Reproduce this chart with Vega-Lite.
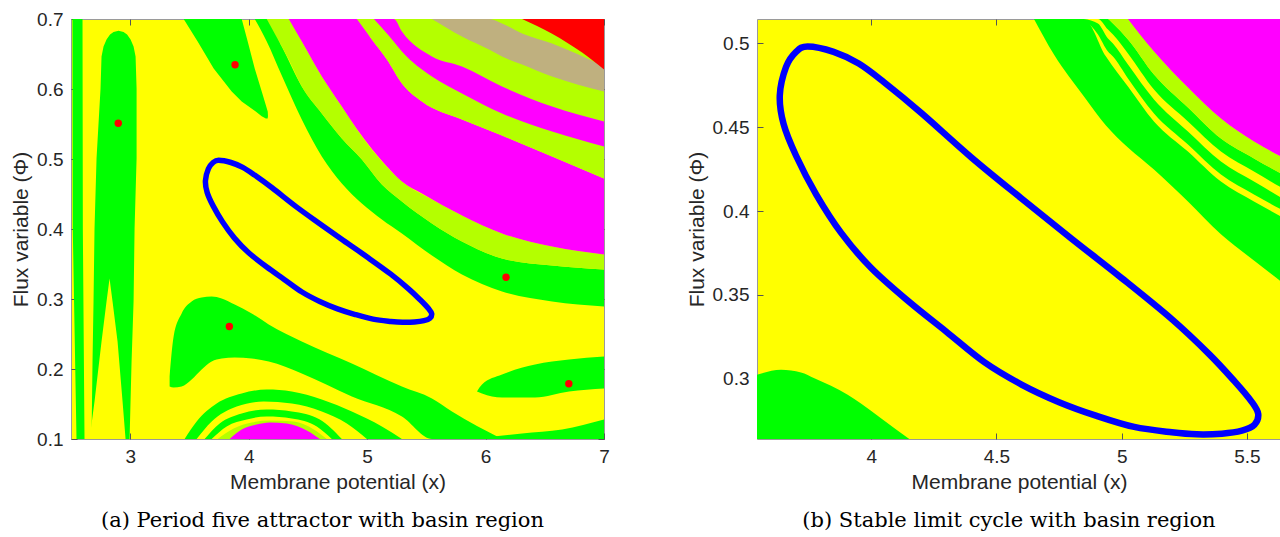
{
  "$schema": "https://vega.github.io/schema/vega-lite/v6.json",
  "autosize": {"type": "pad"},
  "padding": {"left": 10, "top": 9, "right": 0, "bottom": 5},
  "background": "white",
  "config": {
    "view": {"stroke": "#9a9a9a", "strokeWidth": 1, "fill": "#ffff00"},
    "axis": {
      "domain": false, "grid": false, "ticks": true, "tickSize": -6, "tickColor": "#555555",
      "labelFont": "Liberation Sans", "labelFontSize": 19, "labelColor": "#262626", "labelPadding": 14, "labelFlush": false,
      "titleFont": "Liberation Sans", "titleFontSize": 21, "titleFontWeight": "normal", "titleColor": "#262626", "titlePadding": 5
    },
    "title": {"font": "DejaVu Serif", "fontSize": 21, "fontWeight": "normal", "color": "#000000", "orient": "bottom", "anchor": "middle", "frame": "group"}
  },
  "datasets": {
    "areasA": [
      {"id": "band", "c": "green", "x": 4.0511, "lo": 0.7, "hi": 0.7},
      {"id": "band", "c": "green", "x": 4.1526, "lo": 0.6679, "hi": 0.7},
      {"id": "band", "c": "green", "x": 4.2794, "lo": 0.6193, "hi": 0.6607},
      {"id": "band", "c": "green", "x": 4.4485, "lo": 0.5564, "hi": 0.6036},
      {"id": "band", "c": "green", "x": 4.6175, "lo": 0.5036, "hi": 0.565},
      {"id": "band", "c": "green", "x": 4.7866, "lo": 0.465, "hi": 0.5293},
      {"id": "band", "c": "green", "x": 4.9556, "lo": 0.4364, "hi": 0.4993},
      {"id": "band", "c": "green", "x": 5.1247, "lo": 0.4136, "hi": 0.4636},
      {"id": "band", "c": "green", "x": 5.2938, "lo": 0.3936, "hi": 0.4393},
      {"id": "band", "c": "green", "x": 5.5473, "lo": 0.3621, "hi": 0.4079},
      {"id": "band", "c": "green", "x": 5.8009, "lo": 0.335, "hi": 0.3821},
      {"id": "band", "c": "green", "x": 6.139, "lo": 0.3107, "hi": 0.3579},
      {"id": "band", "c": "green", "x": 6.5617, "lo": 0.2964, "hi": 0.3479},
      {"id": "band", "c": "green", "x": 7.0, "lo": 0.2893, "hi": 0.3421},

      {"id": "str1", "c": "stripe", "x": 4.1526, "lo": 0.7, "hi": 0.7},
      {"id": "str1", "c": "stripe", "x": 4.2794, "lo": 0.6607, "hi": 0.7},
      {"id": "str1", "c": "stripe", "x": 4.3386, "lo": 0.6421, "hi": 0.7},
      {"id": "str1", "c": "stripe", "x": 4.4485, "lo": 0.6036, "hi": 0.6679},
      {"id": "str1", "c": "stripe", "x": 4.6175, "lo": 0.565, "hi": 0.6179},
      {"id": "str1", "c": "stripe", "x": 4.7866, "lo": 0.5293, "hi": 0.575},
      {"id": "str1", "c": "stripe", "x": 4.9556, "lo": 0.4993, "hi": 0.5321},
      {"id": "str1", "c": "stripe", "x": 5.1247, "lo": 0.4636, "hi": 0.4964},
      {"id": "str1", "c": "stripe", "x": 5.2938, "lo": 0.4393, "hi": 0.4679},
      {"id": "str1", "c": "stripe", "x": 5.5473, "lo": 0.4079, "hi": 0.4421},
      {"id": "str1", "c": "stripe", "x": 5.8009, "lo": 0.3821, "hi": 0.4193},
      {"id": "str1", "c": "stripe", "x": 6.139, "lo": 0.3579, "hi": 0.3936},
      {"id": "str1", "c": "stripe", "x": 6.5617, "lo": 0.3479, "hi": 0.375},
      {"id": "str1", "c": "stripe", "x": 7.0, "lo": 0.3421, "hi": 0.3636},

      {"id": "mag1", "c": "magenta", "x": 4.3386, "lo": 0.7, "hi": 0.7},
      {"id": "mag1", "c": "magenta", "x": 4.4485, "lo": 0.6679, "hi": 0.7},
      {"id": "mag1", "c": "magenta", "x": 4.6175, "lo": 0.6179, "hi": 0.7},
      {"id": "mag1", "c": "magenta", "x": 4.7866, "lo": 0.575, "hi": 0.7},
      {"id": "mag1", "c": "magenta", "x": 4.9134, "lo": 0.5429, "hi": 0.7},
      {"id": "mag1", "c": "magenta", "x": 5.0402, "lo": 0.5143, "hi": 0.6707},
      {"id": "mag1", "c": "magenta", "x": 5.167, "lo": 0.4893, "hi": 0.6421},
      {"id": "mag1", "c": "magenta", "x": 5.2938, "lo": 0.4679, "hi": 0.6079},
      {"id": "mag1", "c": "magenta", "x": 5.4628, "lo": 0.4507, "hi": 0.5821},
      {"id": "mag1", "c": "magenta", "x": 5.8009, "lo": 0.4193, "hi": 0.5564},
      {"id": "mag1", "c": "magenta", "x": 6.139, "lo": 0.3936, "hi": 0.5336},
      {"id": "mag1", "c": "magenta", "x": 6.5617, "lo": 0.375, "hi": 0.5036},
      {"id": "mag1", "c": "magenta", "x": 7.0, "lo": 0.3636, "hi": 0.4721},

      {"id": "z2", "c": "stripe", "x": 4.9134, "lo": 0.7, "hi": 0.7},
      {"id": "z2", "c": "stripe", "x": 5.0402, "lo": 0.6707, "hi": 0.7},
      {"id": "z2", "c": "stripe", "x": 5.167, "lo": 0.6421, "hi": 0.7},
      {"id": "z2", "c": "stripe", "x": 5.2938, "lo": 0.6079, "hi": 0.7},
      {"id": "z2", "c": "stripe", "x": 5.4628, "lo": 0.5821, "hi": 0.7},
      {"id": "z2", "c": "stripe", "x": 5.8009, "lo": 0.5564, "hi": 0.7},
      {"id": "z2", "c": "stripe", "x": 6.139, "lo": 0.5336, "hi": 0.7},
      {"id": "z2", "c": "stripe", "x": 6.5617, "lo": 0.5036, "hi": 0.7},
      {"id": "z2", "c": "stripe", "x": 7.0, "lo": 0.4721, "hi": 0.7},

      {"id": "nz", "c": "mix", "x": 5.5473, "lo": 0.7, "hi": 0.7},
      {"id": "nz", "c": "mix", "x": 5.8009, "lo": 0.675, "hi": 0.7},
      {"id": "nz", "c": "mix", "x": 6.0292, "lo": 0.6564, "hi": 0.7},
      {"id": "nz", "c": "mix", "x": 6.139, "lo": 0.6464, "hi": 0.6936},
      {"id": "nz", "c": "mix", "x": 6.3081, "lo": 0.635, "hi": 0.6793},
      {"id": "nz", "c": "mix", "x": 6.5617, "lo": 0.6179, "hi": 0.665},
      {"id": "nz", "c": "mix", "x": 7.0, "lo": 0.5964, "hi": 0.6321},

      {"id": "mag2", "c": "magenta", "x": 5.0571, "lo": 0.7, "hi": 0.7},
      {"id": "mag2", "c": "magenta", "x": 5.2261, "lo": 0.6676, "hi": 0.7},
      {"id": "mag2", "c": "magenta", "x": 5.2938, "lo": 0.6536, "hi": 0.6821},
      {"id": "mag2", "c": "magenta", "x": 5.5473, "lo": 0.6179, "hi": 0.6464},
      {"id": "mag2", "c": "magenta", "x": 5.8009, "lo": 0.5936, "hi": 0.6321},
      {"id": "mag2", "c": "magenta", "x": 6.139, "lo": 0.565, "hi": 0.6036},
      {"id": "mag2", "c": "magenta", "x": 6.5617, "lo": 0.5393, "hi": 0.575},
      {"id": "mag2", "c": "magenta", "x": 7.0, "lo": 0.5179, "hi": 0.5536},

      {"id": "red", "c": "red", "x": 6.3081, "lo": 0.7, "hi": 0.7},
      {"id": "red", "c": "red", "x": 6.5617, "lo": 0.679, "hi": 0.7},
      {"id": "red", "c": "red", "x": 6.8153, "lo": 0.652, "hi": 0.7},
      {"id": "red", "c": "red", "x": 7.0, "lo": 0.628, "hi": 0.7},

      {"id": "blob", "c": "green", "x": 3.3326, "lo": 0.175, "hi": 0.1893},
      {"id": "blob", "c": "green", "x": 3.3664, "lo": 0.1736, "hi": 0.2464},
      {"id": "blob", "c": "green", "x": 3.4341, "lo": 0.175, "hi": 0.2793},
      {"id": "blob", "c": "green", "x": 3.5186, "lo": 0.185, "hi": 0.2964},
      {"id": "blob", "c": "green", "x": 3.6031, "lo": 0.1993, "hi": 0.3021},
      {"id": "blob", "c": "green", "x": 3.6877, "lo": 0.2107, "hi": 0.3036},
      {"id": "blob", "c": "green", "x": 3.7722, "lo": 0.215, "hi": 0.3007},
      {"id": "blob", "c": "green", "x": 3.8821, "lo": 0.2164, "hi": 0.2921},
      {"id": "blob", "c": "green", "x": 4.0258, "lo": 0.215, "hi": 0.2793},
      {"id": "blob", "c": "green", "x": 4.1695, "lo": 0.2107, "hi": 0.2636},
      {"id": "blob", "c": "green", "x": 4.4485, "lo": 0.1936, "hi": 0.2393},
      {"id": "blob", "c": "green", "x": 4.8711, "lo": 0.1607, "hi": 0.2079},
      {"id": "blob", "c": "green", "x": 5.2938, "lo": 0.1321, "hi": 0.175},
      {"id": "blob", "c": "green", "x": 5.5473, "lo": 0.1, "hi": 0.1579},
      {"id": "blob", "c": "green", "x": 5.7164, "lo": 0.1, "hi": 0.1393},
      {"id": "blob", "c": "green", "x": 6.139, "lo": 0.1, "hi": 0.1},

      {"id": "rb", "c": "green", "x": 5.9277, "lo": 0.1679, "hi": 0.1679},
      {"id": "rb", "c": "green", "x": 5.97, "lo": 0.165, "hi": 0.1779},
      {"id": "rb", "c": "green", "x": 6.139, "lo": 0.1593, "hi": 0.1921},
      {"id": "rb", "c": "green", "x": 6.418, "lo": 0.1593, "hi": 0.2064},
      {"id": "rb", "c": "green", "x": 6.7054, "lo": 0.1679, "hi": 0.2136},
      {"id": "rb", "c": "green", "x": 7.0, "lo": 0.1721, "hi": 0.2179},

      {"id": "br", "c": "green", "x": 5.887, "lo": 0.1, "hi": 0.1},
      {"id": "br", "c": "green", "x": 6.3081, "lo": 0.1, "hi": 0.1079},
      {"id": "br", "c": "green", "x": 6.6462, "lo": 0.1, "hi": 0.1136},
      {"id": "br", "c": "green", "x": 7.0, "lo": 0.1, "hi": 0.1279},

      {"id": "d1", "c": "green", "x": 3.4594, "lo": 0.1, "hi": 0.1},
      {"id": "d1", "c": "green", "x": 3.5609, "lo": 0.1, "hi": 0.125},
      {"id": "d1", "c": "green", "x": 3.7299, "lo": 0.1, "hi": 0.1507},
      {"id": "d1", "c": "green", "x": 3.9412, "lo": 0.1, "hi": 0.165},
      {"id": "d1", "c": "green", "x": 4.1526, "lo": 0.1, "hi": 0.1707},
      {"id": "d1", "c": "green", "x": 4.364, "lo": 0.1, "hi": 0.1679},
      {"id": "d1", "c": "green", "x": 4.6175, "lo": 0.1, "hi": 0.1564},
      {"id": "d1", "c": "green", "x": 4.8711, "lo": 0.1, "hi": 0.1393},
      {"id": "d1", "c": "green", "x": 5.1247, "lo": 0.1, "hi": 0.1179},
      {"id": "d1", "c": "green", "x": 5.2938, "lo": 0.1, "hi": 0.1},

      {"id": "d2", "c": "yellow", "x": 3.5609, "lo": 0.1, "hi": 0.1},
      {"id": "d2", "c": "yellow", "x": 3.6877, "lo": 0.1, "hi": 0.125},
      {"id": "d2", "c": "yellow", "x": 3.899, "lo": 0.1, "hi": 0.1464},
      {"id": "d2", "c": "yellow", "x": 4.1272, "lo": 0.1, "hi": 0.1536},
      {"id": "d2", "c": "yellow", "x": 4.364, "lo": 0.1, "hi": 0.1507},
      {"id": "d2", "c": "yellow", "x": 4.6175, "lo": 0.1, "hi": 0.1393},
      {"id": "d2", "c": "yellow", "x": 4.8288, "lo": 0.1, "hi": 0.1221},
      {"id": "d2", "c": "yellow", "x": 4.9979, "lo": 0.1, "hi": 0.1},

      {"id": "d3", "c": "green", "x": 3.6285, "lo": 0.1, "hi": 0.1},
      {"id": "d3", "c": "green", "x": 3.7553, "lo": 0.1, "hi": 0.1221},
      {"id": "d3", "c": "green", "x": 3.9412, "lo": 0.1, "hi": 0.1364},
      {"id": "d3", "c": "green", "x": 4.1526, "lo": 0.1, "hi": 0.1421},
      {"id": "d3", "c": "green", "x": 4.364, "lo": 0.1, "hi": 0.1393},
      {"id": "d3", "c": "green", "x": 4.6006, "lo": 0.1, "hi": 0.1279},
      {"id": "d3", "c": "green", "x": 4.7866, "lo": 0.1, "hi": 0.1},

      {"id": "d4", "c": "yellow", "x": 3.6877, "lo": 0.1, "hi": 0.1},
      {"id": "d4", "c": "yellow", "x": 3.8145, "lo": 0.1, "hi": 0.1179},
      {"id": "d4", "c": "yellow", "x": 3.9835, "lo": 0.1, "hi": 0.1279},
      {"id": "d4", "c": "yellow", "x": 4.1526, "lo": 0.1, "hi": 0.1321},
      {"id": "d4", "c": "yellow", "x": 4.364, "lo": 0.1, "hi": 0.1293},
      {"id": "d4", "c": "yellow", "x": 4.5753, "lo": 0.1, "hi": 0.1179},
      {"id": "d4", "c": "yellow", "x": 4.702, "lo": 0.1, "hi": 0.1},

      {"id": "d5", "c": "stripe", "x": 3.7384, "lo": 0.1, "hi": 0.1},
      {"id": "d5", "c": "stripe", "x": 3.8736, "lo": 0.1, "hi": 0.115},
      {"id": "d5", "c": "stripe", "x": 4.0258, "lo": 0.1, "hi": 0.1236},
      {"id": "d5", "c": "stripe", "x": 4.178, "lo": 0.1, "hi": 0.1264},
      {"id": "d5", "c": "stripe", "x": 4.3809, "lo": 0.1, "hi": 0.125},
      {"id": "d5", "c": "stripe", "x": 4.5499, "lo": 0.1, "hi": 0.1136},
      {"id": "d5", "c": "stripe", "x": 4.6598, "lo": 0.1, "hi": 0.1},

      {"id": "d6", "c": "magenta", "x": 3.8398, "lo": 0.1, "hi": 0.1},
      {"id": "d6", "c": "magenta", "x": 3.9412, "lo": 0.1, "hi": 0.1136},
      {"id": "d6", "c": "magenta", "x": 4.068, "lo": 0.1, "hi": 0.1207},
      {"id": "d6", "c": "magenta", "x": 4.178, "lo": 0.1, "hi": 0.1236},
      {"id": "d6", "c": "magenta", "x": 4.3217, "lo": 0.1, "hi": 0.1221},
      {"id": "d6", "c": "magenta", "x": 4.4907, "lo": 0.1, "hi": 0.1121},
      {"id": "d6", "c": "magenta", "x": 4.6006, "lo": 0.1, "hi": 0.1}
    ],
    "hareasA": [
      {"id": "strip", "c": "green", "y": 0.7, "xl": 2.5127, "xr": 2.5972},
      {"id": "strip", "c": "green", "y": 0.4, "xl": 2.515, "xr": 2.6},
      {"id": "strip", "c": "green", "y": 0.1, "xl": 2.5465, "xr": 2.6141},

      {"id": "ell", "c": "green", "y": 0.6831, "xl": 2.9015, "xr": 2.9015},
      {"id": "ell", "c": "green", "y": 0.6814, "xl": 2.8593, "xr": 2.9438},
      {"id": "ell", "c": "green", "y": 0.6779, "xl": 2.8297, "xr": 2.9734},
      {"id": "ell", "c": "green", "y": 0.6707, "xl": 2.8001, "xr": 3.003},
      {"id": "ell", "c": "green", "y": 0.6607, "xl": 2.7747, "xr": 3.0283},
      {"id": "ell", "c": "green", "y": 0.6464, "xl": 2.7578, "xr": 3.0452},
      {"id": "ell", "c": "green", "y": 0.6007, "xl": 2.7494, "xr": 3.0537},
      {"id": "ell", "c": "green", "y": 0.5007, "xl": 2.7156, "xr": 3.0537},
      {"id": "ell", "c": "green", "y": 0.4007, "xl": 2.6986, "xr": 3.0368},
      {"id": "ell", "c": "green", "y": 0.2964, "xl": 2.6902, "xr": 3.0283},
      {"id": "ell", "c": "green", "y": 0.2107, "xl": 2.6817, "xr": 3.0114},
      {"id": "ell", "c": "green", "y": 0.1, "xl": 2.6733, "xr": 2.9945},

      {"id": "wedge", "c": "yellow", "y": 0.3293, "xl": 2.8254, "xr": 2.8254},
      {"id": "wedge", "c": "yellow", "y": 0.2964, "xl": 2.8, "xr": 2.8508},
      {"id": "wedge", "c": "yellow", "y": 0.2393, "xl": 2.7578, "xr": 2.8931},
      {"id": "wedge", "c": "yellow", "y": 0.1536, "xl": 2.6986, "xr": 2.9353},
      {"id": "wedge", "c": "yellow", "y": 0.1, "xl": 2.6564, "xr": 2.9607},

      {"id": "tb", "c": "green", "y": 0.7, "xl": 3.451, "xr": 3.9412},
      {"id": "tb", "c": "green", "y": 0.6679, "xl": 3.5693, "xr": 3.9919},
      {"id": "tb", "c": "green", "y": 0.6293, "xl": 3.7046, "xr": 4.0511},
      {"id": "tb", "c": "green", "y": 0.5964, "xl": 3.8567, "xr": 4.1103},
      {"id": "tb", "c": "green", "y": 0.5821, "xl": 3.9412, "xr": 4.1357},
      {"id": "tb", "c": "green", "y": 0.5679, "xl": 4.0596, "xr": 4.161},
      {"id": "tb", "c": "green", "y": 0.561, "xl": 4.11, "xr": 4.163},
      {"id": "tb", "c": "green", "y": 0.5579, "xl": 4.145, "xr": 4.16}
    ],
    "areasB": [
      {"id": "gb", "c": "green", "x": 3.544, "lo": 0.264, "hi": 0.3023},
      {"id": "gb", "c": "green", "x": 3.64, "lo": 0.264, "hi": 0.3053},
      {"id": "gb", "c": "green", "x": 3.7196, "lo": 0.264, "hi": 0.3037},
      {"id": "gb", "c": "green", "x": 3.773, "lo": 0.264, "hi": 0.3003},
      {"id": "gb", "c": "green", "x": 3.906, "lo": 0.264, "hi": 0.2904},
      {"id": "gb", "c": "green", "x": 3.959, "lo": 0.264, "hi": 0.2852},
      {"id": "gb", "c": "green", "x": 4.039, "lo": 0.264, "hi": 0.2764},
      {"id": "gb", "c": "green", "x": 4.152, "lo": 0.264, "hi": 0.264},

      {"id": "tband", "c": "green", "x": 4.6498, "lo": 0.5146, "hi": 0.5146},
      {"id": "tband", "c": "green", "x": 4.7296, "lo": 0.4934, "hi": 0.5146},
      {"id": "tband", "c": "green", "x": 4.8494, "lo": 0.4684, "hi": 0.5146},
      {"id": "tband", "c": "green", "x": 4.9372, "lo": 0.4511, "hi": 0.4922},
      {"id": "tband", "c": "green", "x": 5.025, "lo": 0.4379, "hi": 0.4743},
      {"id": "tband", "c": "green", "x": 5.1288, "lo": 0.4248, "hi": 0.4535},
      {"id": "tband", "c": "green", "x": 5.2645, "lo": 0.4057, "hi": 0.4355},
      {"id": "tband", "c": "green", "x": 5.3962, "lo": 0.3861, "hi": 0.4176},
      {"id": "tband", "c": "green", "x": 5.528, "lo": 0.3705, "hi": 0.4057},
      {"id": "tband", "c": "green", "x": 5.636, "lo": 0.358, "hi": 0.3968},

      {"id": "g2", "c": "green", "x": 4.8494, "lo": 0.5146, "hi": 0.5146},
      {"id": "g2", "c": "green", "x": 4.9053, "lo": 0.5054, "hi": 0.5146},
      {"id": "g2", "c": "green", "x": 4.9452, "lo": 0.4952, "hi": 0.5146},
      {"id": "g2", "c": "green", "x": 4.9652, "lo": 0.4922, "hi": 0.5119},
      {"id": "g2", "c": "green", "x": 5.0251, "lo": 0.4791, "hi": 0.5024},
      {"id": "g2", "c": "green", "x": 5.1289, "lo": 0.4582, "hi": 0.4815},
      {"id": "g2", "c": "green", "x": 5.2646, "lo": 0.4397, "hi": 0.4618},
      {"id": "g2", "c": "green", "x": 5.3963, "lo": 0.4218, "hi": 0.4433},
      {"id": "g2", "c": "green", "x": 5.5281, "lo": 0.4099, "hi": 0.4314},
      {"id": "g2", "c": "green", "x": 5.636, "lo": 0.401, "hi": 0.4224},

      {"id": "y2", "c": "yellow", "x": 4.8494, "lo": 0.5146, "hi": 0.5146},
      {"id": "y2", "c": "yellow", "x": 4.9053, "lo": 0.5119, "hi": 0.5146},
      {"id": "y2", "c": "yellow", "x": 4.9452, "lo": 0.503, "hi": 0.5083},
      {"id": "y2", "c": "yellow", "x": 4.9652, "lo": 0.5, "hi": 0.5054},
      {"id": "y2", "c": "yellow", "x": 5.0251, "lo": 0.4874, "hi": 0.494},
      {"id": "y2", "c": "yellow", "x": 5.1289, "lo": 0.4666, "hi": 0.4725},
      {"id": "y2", "c": "yellow", "x": 5.2646, "lo": 0.4475, "hi": 0.4535},
      {"id": "y2", "c": "yellow", "x": 5.3963, "lo": 0.4296, "hi": 0.4355},
      {"id": "y2", "c": "yellow", "x": 5.5281, "lo": 0.4176, "hi": 0.4236},
      {"id": "y2", "c": "yellow", "x": 5.636, "lo": 0.4081, "hi": 0.4141},

      {"id": "fine", "c": "stripe", "x": 4.9452, "lo": 0.5146, "hi": 0.5146},
      {"id": "fine", "c": "stripe", "x": 4.9652, "lo": 0.5119, "hi": 0.5146},
      {"id": "fine", "c": "stripe", "x": 5.0251, "lo": 0.5024, "hi": 0.5146},
      {"id": "fine", "c": "stripe", "x": 5.1289, "lo": 0.4815, "hi": 0.4952},
      {"id": "fine", "c": "stripe", "x": 5.2646, "lo": 0.4618, "hi": 0.4737},
      {"id": "fine", "c": "stripe", "x": 5.3963, "lo": 0.4433, "hi": 0.4552},
      {"id": "fine", "c": "stripe", "x": 5.5281, "lo": 0.4314, "hi": 0.4415},
      {"id": "fine", "c": "stripe", "x": 5.636, "lo": 0.4224, "hi": 0.4326},

      {"id": "mg", "c": "magenta", "x": 5.0251, "lo": 0.5146, "hi": 0.5146},
      {"id": "mg", "c": "magenta", "x": 5.1289, "lo": 0.4952, "hi": 0.5146},
      {"id": "mg", "c": "magenta", "x": 5.2646, "lo": 0.4737, "hi": 0.5146},
      {"id": "mg", "c": "magenta", "x": 5.3963, "lo": 0.4552, "hi": 0.5146},
      {"id": "mg", "c": "magenta", "x": 5.5281, "lo": 0.4415, "hi": 0.5146},
      {"id": "mg", "c": "magenta", "x": 5.636, "lo": 0.4326, "hi": 0.5146}
    ],
    "cycle": [
      {"i": 0, "x": 3.746, "y": 0.4982},
      {"i": 1, "x": 3.85, "y": 0.495},
      {"i": 2, "x": 3.95, "y": 0.488},
      {"i": 3, "x": 4.05, "y": 0.477},
      {"i": 4, "x": 4.2, "y": 0.4585},
      {"i": 5, "x": 4.4, "y": 0.432},
      {"i": 6, "x": 4.6, "y": 0.4075},
      {"i": 7, "x": 4.8, "y": 0.3835},
      {"i": 8, "x": 5.0, "y": 0.36},
      {"i": 9, "x": 5.2, "y": 0.3355},
      {"i": 10, "x": 5.35, "y": 0.3145},
      {"i": 11, "x": 5.45, "y": 0.2985},
      {"i": 12, "x": 5.52, "y": 0.286},
      {"i": 13, "x": 5.545, "y": 0.279},
      {"i": 14, "x": 5.53, "y": 0.2725},
      {"i": 15, "x": 5.48, "y": 0.269},
      {"i": 16, "x": 5.4, "y": 0.2672},
      {"i": 17, "x": 5.3, "y": 0.2668},
      {"i": 18, "x": 5.2, "y": 0.268},
      {"i": 19, "x": 5.05, "y": 0.2712},
      {"i": 20, "x": 4.9, "y": 0.2778},
      {"i": 21, "x": 4.75, "y": 0.286},
      {"i": 22, "x": 4.6, "y": 0.2965},
      {"i": 23, "x": 4.45, "y": 0.31},
      {"i": 24, "x": 4.3, "y": 0.328},
      {"i": 25, "x": 4.15, "y": 0.346},
      {"i": 26, "x": 4.0, "y": 0.366},
      {"i": 27, "x": 3.88, "y": 0.387},
      {"i": 28, "x": 3.78, "y": 0.41},
      {"i": 29, "x": 3.7, "y": 0.433},
      {"i": 30, "x": 3.65, "y": 0.452},
      {"i": 31, "x": 3.635, "y": 0.469},
      {"i": 32, "x": 3.66, "y": 0.486},
      {"i": 33, "x": 3.7, "y": 0.495}
    ],
    "dotsA": [
      {"x": 2.899, "y": 0.551},
      {"x": 3.885, "y": 0.6346},
      {"x": 3.837, "y": 0.2607},
      {"x": 6.173, "y": 0.331},
      {"x": 6.703, "y": 0.179}
    ]
  },
  "spacing": 153,
  "bounds": "flush",
  "hconcat": [
    {
      "width": 533,
      "height": 420,
      "title": {"text": "(a) Period five attractor with basin region", "dx": -15, "offset": 18},
      "resolve": {"axis": {"x": "independent", "y": "independent"}},
      "layer": [
        {
          "data": {"name": "areasA"},
          "mark": {"type": "area", "interpolate": "monotone", "clip": true},
          "encoding": {
            "x": {"field": "x", "type": "quantitative", "title": "Membrane potential (x)", "scale": {"domain": [2.5, 7], "nice": false, "zero": false}, "axis": {"values": [3, 4, 5, 6, 7], "format": "d"}},
            "y": {"field": "lo", "type": "quantitative", "title": "Flux variable (Φ)", "scale": {"domain": [0.1, 0.7], "nice": false, "zero": false}, "axis": {"values": [0.1, 0.2, 0.3, 0.4, 0.5, 0.6, 0.7], "format": ".1f"}},
            "y2": {"field": "hi"},
            "color": {"field": "c", "type": "nominal", "legend": null, "scale": {"domain": ["green", "yellow", "magenta", "red", "stripe", "mix"], "range": ["#00ff00", "#ffff00", "#ff00ff", "#ff0000", "#b4ff00", "#bfb07f"]}},
            "detail": {"field": "id"}
          }
        },
        {
          "data": {"name": "hareasA"},
          "mark": {"type": "area", "orient": "horizontal", "interpolate": "linear", "clip": true},
          "encoding": {
            "y": {"field": "y", "type": "quantitative", "axis": null},
            "x": {"field": "xl", "type": "quantitative", "axis": null},
            "x2": {"field": "xr"},
            "color": {"field": "c", "type": "nominal", "legend": null},
            "detail": {"field": "id"}
          }
        },
        {
          "data": {"name": "cycle"},
          "mark": {"type": "line", "interpolate": "cardinal-closed", "color": "#0000ff", "strokeWidth": 5.5, "clip": true},
          "encoding": {
            "x": {"field": "x", "type": "quantitative", "axis": null},
            "y": {"field": "y", "type": "quantitative", "axis": null},
            "order": {"field": "i", "type": "quantitative"}
          }
        },
        {
          "data": {"name": "dotsA"},
          "mark": {"type": "circle", "color": "#ff0000", "opacity": 1, "size": 55},
          "encoding": {
            "x": {"field": "x", "type": "quantitative", "axis": null},
            "y": {"field": "y", "type": "quantitative", "axis": null}
          }
        },
        {
          "data": {"name": "dotsA"},
          "mark": {"type": "point", "opacity": 0},
          "encoding": {
            "x": {"field": "x", "type": "quantitative", "axis": {"orient": "top", "labels": false, "title": null, "values": [3, 4, 5, 6, 7]}},
            "y": {"field": "y", "type": "quantitative", "axis": {"orient": "right", "labels": false, "title": null, "values": [0.1, 0.2, 0.3, 0.4, 0.5, 0.6, 0.7]}}
          }
        }
      ]
    },
    {
      "width": 524,
      "height": 420,
      "title": {"text": "(b) Stable limit cycle with basin region", "dx": -10, "offset": 18},
      "resolve": {"axis": {"x": "independent", "y": "independent"}},
      "layer": [
        {
          "data": {"name": "areasB"},
          "mark": {"type": "area", "interpolate": "monotone", "clip": true},
          "encoding": {
            "x": {"field": "x", "type": "quantitative", "title": "Membrane potential (x)", "scale": {"domain": [3.544, 5.636], "nice": false, "zero": false}, "axis": {"values": [4, 4.5, 5, 5.5], "format": "~g"}},
            "y": {"field": "lo", "type": "quantitative", "title": "Flux variable (Φ)", "scale": {"domain": [0.264, 0.5146], "nice": false, "zero": false}, "axis": {"values": [0.3, 0.35, 0.4, 0.45, 0.5], "format": "~g"}},
            "y2": {"field": "hi"},
            "color": {"field": "c", "type": "nominal", "legend": null, "scale": {"domain": ["green", "yellow", "magenta", "red", "stripe", "mix"], "range": ["#00ff00", "#ffff00", "#ff00ff", "#ff0000", "#b4ff00", "#bfb07f"]}},
            "detail": {"field": "id"}
          }
        },
        {
          "data": {"name": "cycle"},
          "mark": {"type": "line", "interpolate": "cardinal-closed", "color": "#0000ff", "strokeWidth": 6.5, "clip": true},
          "encoding": {
            "x": {"field": "x", "type": "quantitative", "axis": null},
            "y": {"field": "y", "type": "quantitative", "axis": null},
            "order": {"field": "i", "type": "quantitative"}
          }
        },
        {
          "data": {"name": "cycle"},
          "mark": {"type": "point", "opacity": 0},
          "encoding": {
            "x": {"field": "x", "type": "quantitative", "axis": {"orient": "top", "labels": false, "title": null, "values": [4, 4.5, 5, 5.5]}}
          }
        }
      ]
    }
  ]
}
